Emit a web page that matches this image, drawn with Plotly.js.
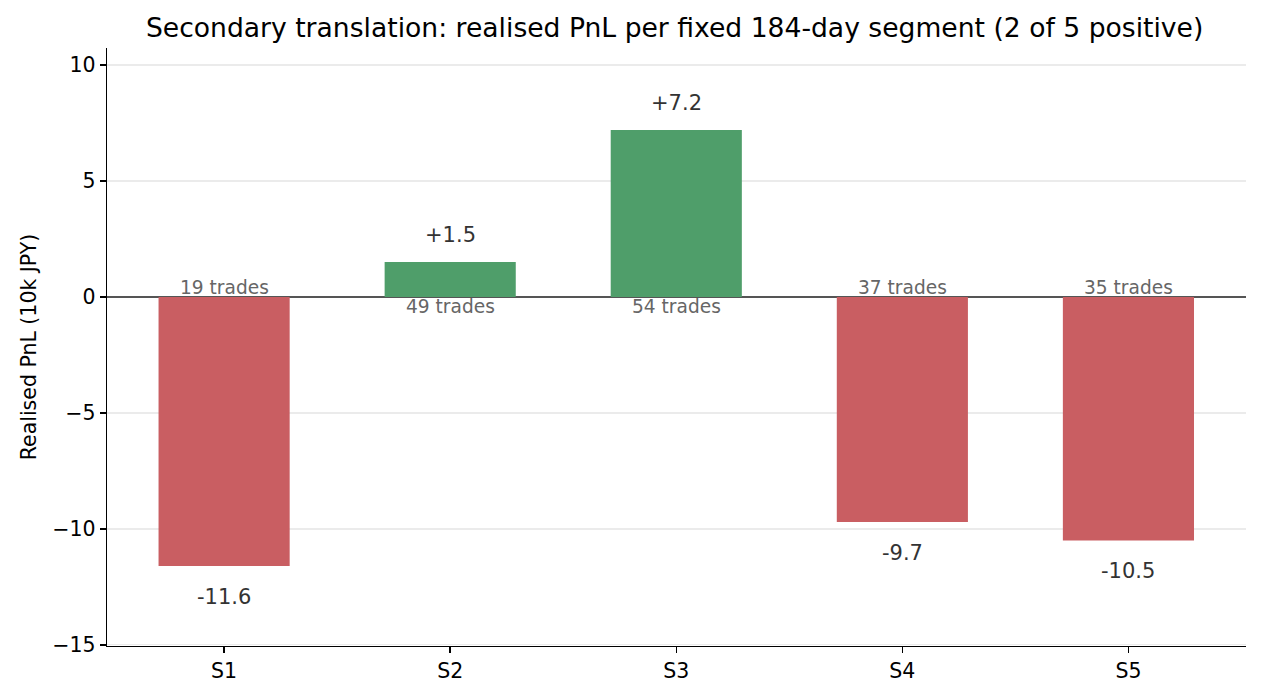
<!DOCTYPE html>
<html>
<head>
<meta charset="utf-8">
<script src="https://cdn.plot.ly/plotly-3.0.1.min.js"></script>
<style>html,body{margin:0;padding:0;background:#fff}#chart{width:1261px;height:699px}</style>
</head>
<body>
<div id="chart"></div>
<script>
const segments = ["S1", "S2", "S3", "S4", "S5"];
const pnl = [-11.6, 1.5, 7.2, -9.7, -10.5];
const trades = [19, 49, 54, 37, 35];
const yTickVals = [-15, -10, -5, 0, 5, 10];
const yTickText = ["\u221215", "\u221210", "\u22125", "0", "5", "10"];

const FONT = "DejaVu Sans, sans-serif";
const colors = pnl.map(v => v >= 0 ? "rgb(79,158,106)" : "rgb(201,94,98)");

const trace = {
  type: "bar",
  x: segments,
  y: pnl,
  width: 0.58,
  marker: {color: colors, line: {width: 0}},
  hoverinfo: "x+y"
};

const annotations = [];
segments.forEach((s, i) => {
  const v = pnl[i];
  const txt = (v > 0 ? "+" : "") + v.toFixed(1);
  annotations.push({
    x: s, y: v, xref: "x", yref: "y", text: txt, showarrow: false,
    font: {family: FONT, size: 21, color: "#333333"},
    yanchor: v >= 0 ? "bottom" : "top",
    yshift: v >= 0 ? 13 : -17
  });
  annotations.push({
    x: s, y: 0, xref: "x", yref: "y", text: trades[i] + " trades", showarrow: false,
    font: {family: FONT, size: 18.6, color: "#666666"},
    yanchor: v >= 0 ? "top" : "bottom",
    yshift: v >= 0 ? 3 : -3
  });
});

const layout = {
  width: 1261, height: 699,
  margin: {l: 107, r: 15, t: 48, b: 53},
  paper_bgcolor: "#ffffff", plot_bgcolor: "#ffffff",
  font: {family: FONT, size: 20.5, color: "#000000"},
  title: {
    text: "Secondary translation: realised PnL per fixed 184-day segment (2 of 5 positive)",
    font: {family: FONT, size: 26.6, color: "#000000"},
    x: 0.535, xanchor: "center", y: 0.961, yanchor: "middle"
  },
  showlegend: false,
  xaxis: {
    type: "category",
    range: [-0.518, 4.52],
    showgrid: false, zeroline: false,
    showline: true, linecolor: "#000000", linewidth: 1.4,
    ticks: "outside", ticklen: 6, tickwidth: 1.4, tickcolor: "#000000",
    tickfont: {family: FONT, size: 20.5, color: "#000000"},
    mirror: false
  },
  yaxis: {
    range: [-15.05, 10.73],
    tickvals: yTickVals, ticktext: yTickText,
    showgrid: true, gridcolor: "#ebebeb", gridwidth: 1.3,
    zeroline: true, zerolinecolor: "#555555", zerolinewidth: 1.6,
    showline: true, linecolor: "#000000", linewidth: 1.4,
    ticks: "outside", ticklen: 6, tickwidth: 1.4, tickcolor: "#000000",
    tickfont: {family: FONT, size: 20.5, color: "#000000"},
    title: {text: "Realised PnL (10k JPY)", font: {family: FONT, size: 20.5, color: "#000000"}, standoff: 10}
  },
  annotations: annotations
};

Plotly.newPlot("chart", [trace], layout, {displayModeBar: false, staticPlot: true});
</script>
</body>
</html>
